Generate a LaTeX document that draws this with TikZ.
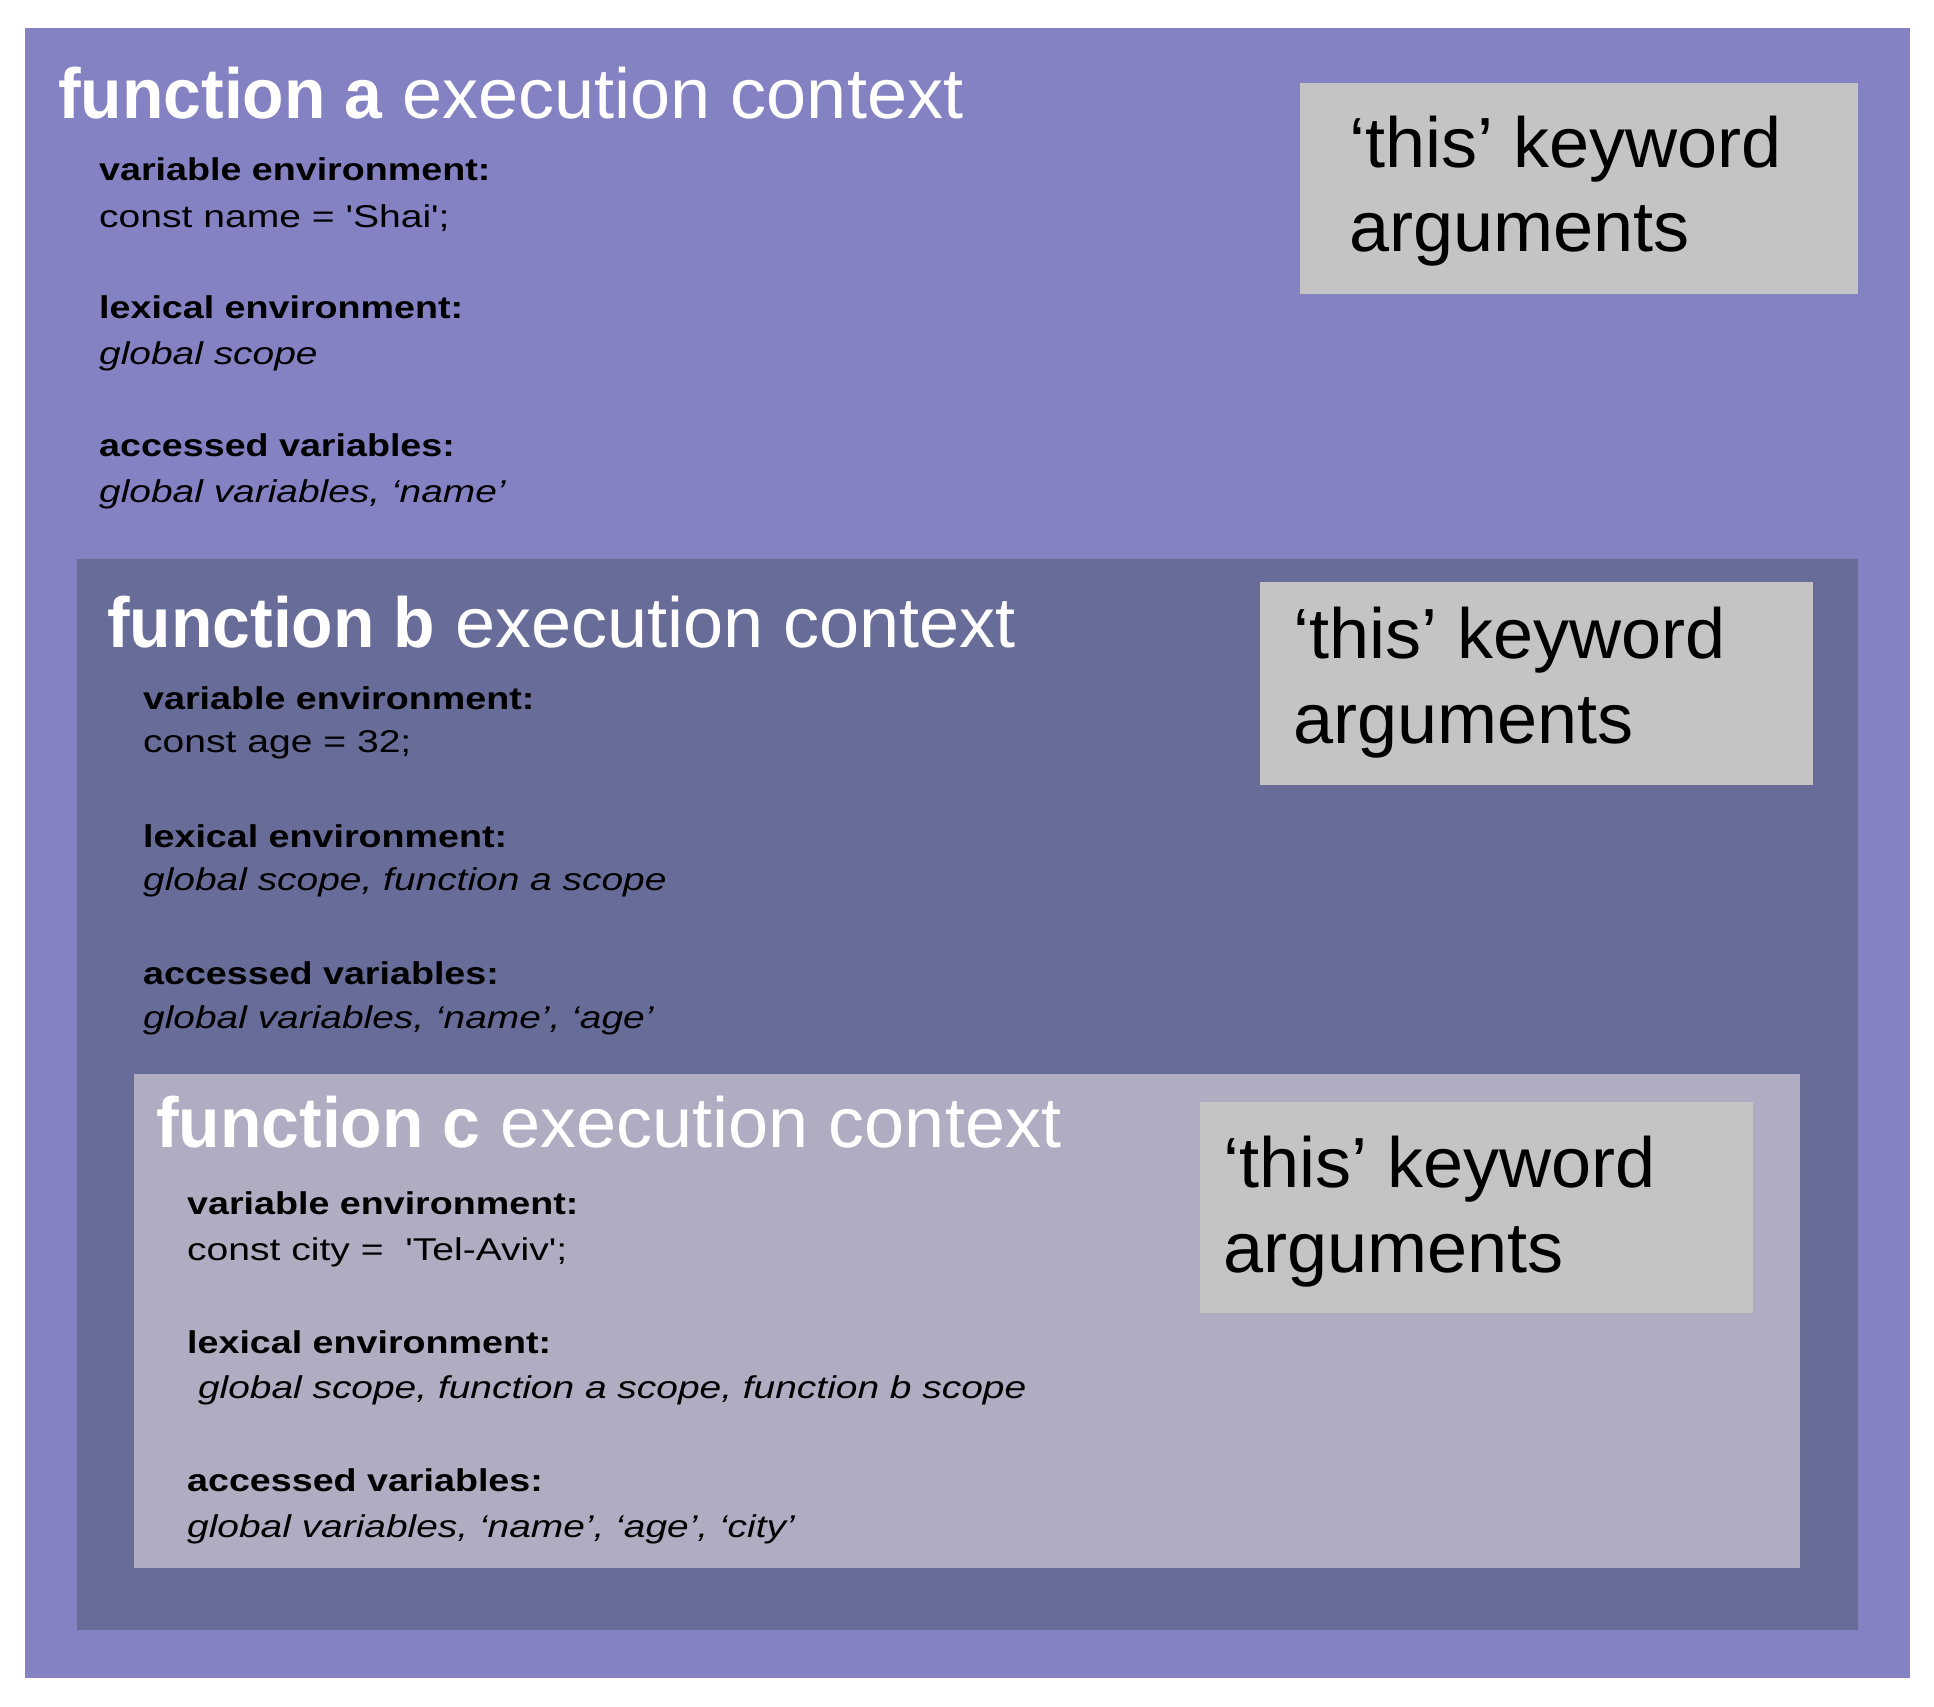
\documentclass[tikz,border=0pt]{standalone}
\usepackage{fontspec}
\newfontfamily\ttlfont{Liberation Sans}[UprightFeatures={FakeStretch=1.015},BoldFeatures={FakeStretch=0.956}]
\newfontfamily\bodyfont{Liberation Sans}[UprightFeatures={FakeStretch=1.24},BoldFeatures={FakeStretch=1.195},ItalicFeatures={FakeStretch=1.235}]
\definecolor{ctxa}{HTML}{8482C3}
\definecolor{ctxb}{HTML}{686C98}
\definecolor{ctxc}{HTML}{B0ACC2}
\definecolor{thisbox}{HTML}{C4C4C4}
\begin{document}
\begin{tikzpicture}[x=1pt,y=-1pt,
  ttl/.style={anchor=base west, inner sep=0pt, text=white, font=\ttlfont\fontsize{71}{85}\selectfont},
  kw/.style={anchor=base west, inner sep=0pt, text=black, font=\ttlfont\fontsize{71}{85}\selectfont},
  lbl/.style={anchor=base west, inner sep=0pt, text=black, font=\bodyfont\fontsize{31.5}{40}\selectfont\bfseries},
  val/.style={anchor=base west, inner sep=0pt, text=black, font=\bodyfont\fontsize{31.5}{40}\selectfont},
  ival/.style={anchor=base west, inner sep=0pt, text=black, font=\bodyfont\fontsize{31.5}{40}\selectfont\itshape}]
\useasboundingbox (0,0) rectangle (1934,1706);
\fill[white] (0,0) rectangle (1934,1706);
% boxes
\fill[ctxa] (24.5,28) rectangle (1909.5,1677.5);
\fill[thisbox] (1300,82.5) rectangle (1857.5,293.5);
\fill[ctxb] (76.5,558.5) rectangle (1857.5,1629.5);
\fill[thisbox] (1260,582) rectangle (1813,785);
\fill[ctxc] (134,1074) rectangle (1800,1567.5);
\fill[thisbox] (1200,1102) rectangle (1753,1313);
% function a
\node[ttl] (ta) at (58,118) {{\bfseries function a} execution context};
\node[lbl] (a1) at (99,180) {variable environment:};
\node[val] (a2) at (99,227) {const name = 'Shai';};
\node[lbl] (a3) at (99,318) {lexical environment:};
\node[ival] (a4) at (99,364) {global scope};
\node[lbl] (a5) at (99,456) {accessed variables:};
\node[ival] (a6) at (99,502) {global variables, ‘name’};
\node[kw] (ak1) at (1349,167) {‘this’ keyword};
\node[kw] (ak2) at (1349,251) {arguments};
% function b
\node[ttl] (tb) at (107,647) {{\bfseries function b} execution context};
\node[lbl] (b1) at (143,709) {variable environment:};
\node[val] (b2) at (143,752) {const age = 32;};
\node[lbl] (b3) at (143,847) {lexical environment:};
\node[ival] (b4) at (143,890) {global scope, function a scope};
\node[lbl] (b5) at (143,984) {accessed variables:};
\node[ival] (b6) at (143,1028) {global variables, ‘name’, ‘age’};
\node[kw] (bk1) at (1293,658) {‘this’ keyword};
\node[kw] (bk2) at (1293,743) {arguments};
% function c
\node[ttl] (tc) at (156,1147) {{\bfseries function c} execution context};
\node[lbl] (c1) at (187,1214) {variable environment:};
\node[val] (c2) at (187,1260) {const city =\ \ 'Tel-Aviv';};
\node[lbl] (c3) at (187,1353) {lexical environment:};
\node[ival] (c4) at (187,1398) {\ global scope, function a scope, function b scope};
\node[lbl] (c5) at (187,1491) {accessed variables:};
\node[ival] (c6) at (187,1537) {global variables, ‘name’, ‘age’, ‘city’};
\node[kw] (ck1) at (1223,1187) {‘this’ keyword};
\node[kw] (ck2) at (1223,1272) {arguments};
\end{tikzpicture}
\end{document}
